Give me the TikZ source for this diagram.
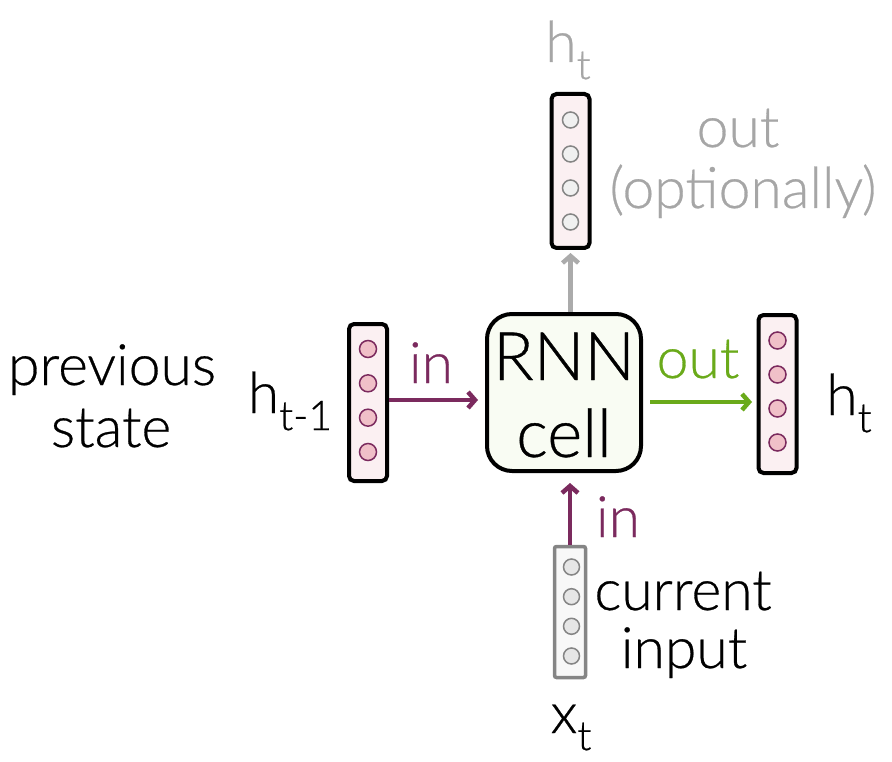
\documentclass[tikz,border=0pt]{standalone}
\usepackage{fontspec}
\setmainfont{Lato Light}[FakeBold=0.5]
\usetikzlibrary{arrows.meta}
\definecolor{inpurple}{HTML}{7B2A5E}
\definecolor{outgreen}{HTML}{6AAA1A}
\definecolor{grayarrow}{HTML}{ABABAB}
\definecolor{graytext}{HTML}{A6A6A6}
\definecolor{vecfill}{HTML}{FBF0F2}
\definecolor{dotpink}{HTML}{F0C0C8}
\definecolor{cellfill}{HTML}{F9FCF3}
\definecolor{dotgray}{HTML}{F0F0F0}
\definecolor{dotgraydark}{HTML}{E6E6E6}
\definecolor{graystroke}{HTML}{858585}
\definecolor{infill}{HTML}{F8F8F8}
\newcommand\bigtxt{\fontsize{57}{60}\selectfont}
\newcommand\celltxtsize{\fontsize{67}{70}\selectfont}
\newcommand\mysubtxt[1]{\raisebox{-0.3em}{\fontsize{41}{44}\selectfont #1}}
\tikzset{
  vecbox/.style={draw=black, line width=4pt, rounded corners=5pt, fill=vecfill, minimum width=38pt, inner sep=0pt},
  inbox/.style={draw=graystroke, line width=3.5pt, rounded corners=2pt, fill=infill, minimum width=31pt, minimum height=131pt, inner sep=0pt},
  cellbox/.style={draw=black, line width=4pt, rounded corners=25pt, fill=cellfill, minimum width=154pt, minimum height=157pt, inner sep=0pt},
  pinkdot/.style={circle, draw=inpurple, fill=dotpink, line width=1.5pt, minimum size=17pt, inner sep=0pt},
  graydot/.style={circle, draw=graystroke, fill=dotgray, line width=1.5pt, minimum size=16pt, inner sep=0pt},
  graydotb/.style={circle, draw=graystroke, fill=dotgraydark, line width=1.5pt, minimum size=16pt, inner sep=0pt},
  lbl/.style={font=\bigtxt, anchor=base, inner sep=0pt},
  celllbl/.style={font=\celltxtsize, anchor=base, inner sep=0pt},
  arr/.style={line width=4.5pt, -{Straight Barb[length=7pt,width=16pt]}},
}
\begin{document}
\begin{tikzpicture}[x=1pt,y=-1pt]
\useasboundingbox (0,0) rectangle (892,762);
% boxes
\node[cellbox] (cell) at (564,392.5) {};
\node[vecbox, minimum height=154pt] (htop) at (570.5,171) {};
\node[vecbox, minimum height=157pt] (hprev) at (368,402.5) {};
\node[vecbox, minimum height=158pt] (hnext) at (777.5,394) {};
\node[inbox] (xin) at (570,612) {};
% dots
\foreach \i/\d in {1/-51,2/-17,3/17,4/51} {
  \node[graydot] (htop-\i) at (570.5,171+\d) {};
  \node[pinkdot] (hprev-\i) at (368,400.5+\d*1.01) {};
  \node[pinkdot] (hnext-\i) at (777.5,391.5+\d) {};
}
\foreach \i/\d in {1/-44.5,2/-14.8,3/14.8,4/44.5} {
  \node[graydotb] (xin-\i) at (571.5,611.5+\d) {};
}
% cell text
\node[celllbl] (rnn) at (564,380) {RNN};
\node[celllbl] (celltxt) at (564,457) {cell};
% arrows
\coordinate (inL) at (389,400);
\coordinate (inLend) at (478,400);
\draw[arr, inpurple] (inL) -- (inLend);
\coordinate (outS) at (650,402);
\coordinate (outE) at (752,402);
\draw[arr, outgreen] (outS) -- (outE);
\draw[arr, grayarrow] (htop.south |- cell.north) -- ([yshift=-3pt]htop.south);
\draw[arr, inpurple] (xin.north) -- ([yshift=-10pt]xin.north |- cell.south);
% labels
\node[lbl, text=inpurple] (inLtxt) at (431,383) {in};
\node[lbl, text=outgreen] (outtxt) at (698,378) {out};
\node[lbl, text=inpurple] (inBtxt) at (618,537) {in};
\node[lbl, text=graytext] (htoptxt) at (568,62) {h\mysubtxt{t}};
\node[lbl, text=graytext] (outopt1) at (738,147) {out};
\node[lbl, text=graytext] (outopt2) at (743,208) {(optionally)};
\node[lbl] (prev1) at (112,385) {previous};
\node[lbl] (prev2) at (111,447) {state};
\node[lbl] (hprevtxt) at (290,413) {h\mysubtxt{t-1}};
\node[lbl] (hnexttxt) at (849,415) {h\mysubtxt{t}};
\node[lbl] (cur1) at (683,610) {current};
\node[lbl] (cur2) at (684,668) {input};
\node[lbl] (xtxt) at (571,733) {x\mysubtxt{t}};
\end{tikzpicture}
\end{document}
